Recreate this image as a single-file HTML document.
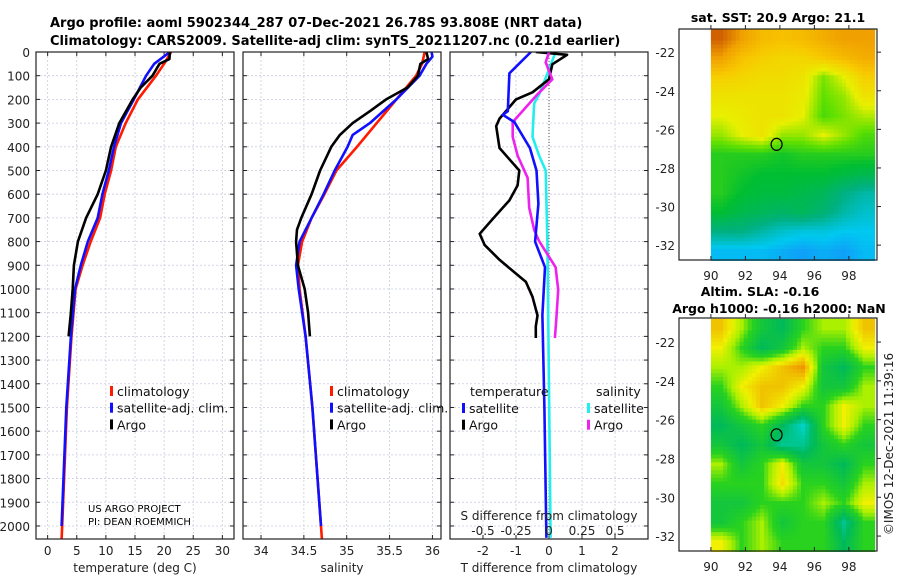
<!DOCTYPE html>
<html><head><meta charset="utf-8">
<style>
html,body{margin:0;padding:0;background:#fff;}
svg{display:block;font-family:"DejaVu Sans","Liberation Sans",sans-serif;}
</style></head>
<body>
<svg id="fig" width="900" height="580" viewBox="0 0 900 580" xmlns="http://www.w3.org/2000/svg">
<defs>
<clipPath id="cp1"><rect x="36" y="52" width="198" height="487"/></clipPath>
<clipPath id="cp2"><rect x="243" y="52" width="198" height="487"/></clipPath>
<clipPath id="cp3"><rect x="450" y="52" width="198" height="487"/></clipPath>
</defs>
<g id="root"></g>
</svg>
<script>
// ---------- data ----------
const depthTicks=[0,100,200,300,400,500,600,700,800,900,1000,1100,1200,1300,1400,1500,1600,1700,1800,1900,2000];
const tempTicks=[0,5,10,15,20,25,30];
const salTicks=[34,34.5,35,35.5,36];
const salTickLabels=["34","34.5","35","35.5","36"];
const dTTicks=[-2,-1,0,1,2];
const dSTicks=[-0.5,-0.25,0,0.25,0.5];
const dSTickLabels=["-0.5","-0.25","0","0.25","0.5"];

const climTDepth=[0,50,100,200,300,400,500,600,700,800,900,1000,1200,1500,2000,2055];
const climT=[21.2,20.0,18.6,15.5,13.4,11.7,10.9,9.8,9.0,7.4,6.0,4.8,4.1,3.3,2.5,2.4];
const satTDepth=[0,50,100,200,300,400,500,600,700,800,900,1000,1200,1500,2000];
const satT=[21.0,18.3,16.9,14.8,12.6,11.4,10.5,9.4,8.6,6.9,5.7,4.7,4.0,3.2,2.4];
const argoTDepth=[0,30,50,100,150,200,300,400,500,600,700,800,900,1000,1100,1200];
const argoT=[21.0,20.9,19.2,18.0,16.0,14.6,12.3,10.9,10.0,8.6,6.6,5.2,4.5,4.3,4.0,3.6];

const climSDepth=[0,50,100,200,300,400,500,600,700,800,900,1000,1200,1500,2000,2055];
const climS=[35.91,35.88,35.81,35.58,35.35,35.12,34.88,34.74,34.59,34.48,34.43,34.45,34.52,34.6,34.70,34.71];
const satSDepth=[0,20,50,100,200,300,350,400,500,600,700,800,900,1000,1200,1500,2000];
const satS=[35.99,36.0,35.93,35.85,35.58,35.27,35.07,35.01,34.86,34.73,34.59,34.45,34.41,34.44,34.52,34.6,34.70];
const argoSDepth=[0,30,50,100,150,200,250,300,350,400,500,600,700,750,800,900,1000,1100,1200];
const argoS=[35.93,35.95,35.86,35.83,35.71,35.46,35.27,35.07,34.92,34.82,34.69,34.59,34.47,34.42,34.41,34.43,34.51,34.55,34.57];

const dTsatDepth=[0,90,250,265,296,405,500,640,800,908,1110,1500,2050];
const dTsat=[-0.55,-1.2,-1.25,-1.4,-1.05,-0.58,-0.38,-0.32,-0.42,-0.12,-0.2,-0.14,-0.08];
const dTargoDepth=[0,12,52,115,170,200,249,281,313,405,500,563,626,704,767,814,877,970,1033,1112,1158,1207];
const dTargo=[-0.4,0.55,0.1,0,-0.5,-1.0,-1.3,-1.5,-1.6,-1.5,-0.9,-0.95,-1.2,-1.7,-2.1,-1.95,-1.5,-0.7,-0.5,-0.35,-0.4,-0.4];
const dSsatDepth=[0,91,179,217,296,358,437,500,800,2050];
const dSsat=[0.05,-0.012,-0.075,-0.112,-0.12,-0.125,-0.075,-0.025,-0.012,0.012];
const dSargoDepth=[0,44,115,179,249,296,358,437,531,657,751,798,908,1003,1128,1207];
const dSargo=[0,-0.025,0.025,-0.088,-0.2,-0.275,-0.275,-0.238,-0.162,-0.15,-0.112,-0.075,0.05,0.07,0.055,0.045];

const mapLonTicks=[90,92,94,96,98];
const mapLatTicks=[-22,-24,-26,-28,-30,-32];
const sstGrid=[
[23.5,23,22.6,22.5,22.6,22.8,23,23],
[23,22.5,22.3,22.2,22.2,22.4,22.6,22.8],
[22.3,22.2,22.1,22.1,22,21.4,21.8,22.3],
[22,22,22,22,21.9,21.3,21.5,22],
[21.8,21.9,22,22,21.8,21.2,21.4,21.6],
[21.5,21.8,22,21.5,21.5,21.8,21.5,21.2],
[21,21,21,20.9,21,21,21,21],
[21,20.9,20.8,20.8,20.8,20.8,20.7,20.6],
[21,20.8,20.7,20.7,20.6,20.5,20.2,20],
[20.8,20.6,20.5,20.4,20.5,20.3,20,19.8],
[20.2,20.2,20,19.8,19.7,19.7,19.6,19.6],
[19.5,19.5,19.5,19.4,19.3,19.4,19.3,19.5]];
const slaGrid=[
[0.15,0.05,-0.05,-0.1,0,0.05,0.05,0.15],
[0.1,0,-0.1,-0.05,0.05,0,0,0.1],
[0.05,0.05,0.1,0.15,0.2,-0.05,-0.1,0],
[0,0.1,0.15,0.15,0.1,-0.05,-0.05,0.05],
[-0.05,0.05,0.15,0.1,0,0,0.1,0.05],
[-0.1,-0.05,0,-0.1,-0.2,0,0.1,0],
[-0.05,-0.1,-0.05,-0.15,-0.15,-0.05,0,-0.05],
[0.05,-0.05,0,0.1,-0.05,-0.05,-0.1,0],
[0,0,0,0.12,0,0,-0.05,0.05],
[-0.05,-0.05,0,0,0,0.05,0,0.1],
[-0.05,0,0.05,-0.05,0,0,-0.15,0],
[0.1,0,0.05,0,0,0,-0.1,0]];
const argoLon=93.808, argoLat=-26.78;

// ---------- helpers ----------
const NS="http://www.w3.org/2000/svg";
const root=document.getElementById('root');
function mk(tag,attrs,parent){const e=document.createElementNS(NS,tag);for(const k in attrs)e.setAttribute(k,attrs[k]);(parent||root).appendChild(e);return e;}
function txt(x,y,s,attrs,parent){const e=mk('text',Object.assign({x:x,y:y,'font-size':12,fill:'#222'},attrs||{}),parent);e.textContent=s;return e;}
const yD=d=>52+d*(487/2055);
const P1={x0:36,w:198,min:-2,max:32};
const P2={x0:243,w:198,min:33.79,max:36.1};
const P3={x0:450,w:198,min:-3,max:3};
const xs=(p,v)=>p.x0+(v-p.min)/(p.max-p.min)*p.w;

function panelGrid(p,xt,name){
  const g=mk('g',{});
  
  
  depthTicks.forEach(d=>{mk('line',{x1:p.x0,x2:p.x0+p.w,y1:yD(d),y2:yD(d),stroke:'#c8cce0','stroke-width':0.8,'stroke-dasharray':'2,2'},g);
    mk('line',{x1:p.x0,x2:p.x0+4,y1:yD(d),y2:yD(d),stroke:'#222'},g);mk('line',{x1:p.x0+p.w-4,x2:p.x0+p.w,y1:yD(d),y2:yD(d),stroke:'#222'},g);});
  xt.forEach(v=>{const x=xs(p,v);mk('line',{x1:x,x2:x,y1:52,y2:539,stroke:'#c8cce0','stroke-width':0.8,'stroke-dasharray':'2,2'},g);
    mk('line',{x1:x,x2:x,y1:535,y2:539,stroke:'#222'},g);mk('line',{x1:x,x2:x,y1:52,y2:56,stroke:'#222'},g);});
}
function frame(p,name){const r=mk('rect',{x:p.x0,y:52,width:p.w,height:487,fill:'none',stroke:'#222','stroke-width':1.2});
  }
function line(p,vals,deps,color,name,clip,scale){
  const pts=vals.map((v,i)=>xs(p,v*(scale||1)).toFixed(1)+','+yD(deps[i]).toFixed(1)).join(' ');
  const e=mk('polyline',{points:pts,fill:'none',stroke:color,'stroke-width':2.6,'stroke-linejoin':'round','clip-path':'url(#'+clip+')'});
  
  
}

// ---------- titles ----------
const t1=txt(50,27,'Argo profile: aoml 5902344_287 07-Dec-2021 26.78S 93.808E (NRT data)',{'font-size':13,'font-weight':'bold',fill:'#000'});

const t2=txt(50,45,'Climatology: CARS2009. Satellite-adj clim: synTS_20211207.nc (0.21d earlier)',{'font-size':13,'font-weight':'bold',fill:'#000'});


// ---------- panel 1 ----------
panelGrid(P1,tempTicks,'temperature-panel');
depthTicks.forEach(d=>{const e=txt(30,yD(d)+5,String(d),{'text-anchor':'end'});
  });
tempTicks.forEach(v=>{const e=txt(xs(P1,v),555,String(v),{'text-anchor':'middle'});
  });
line(P1,climT,climTDepth,'#ff1a00','temp-climatology-line','cp1');
line(P1,satT,satTDepth,'#1010ff','temp-satellite-line','cp1');
line(P1,argoT,argoTDepth,'#000','temp-argo-line','cp1');
frame(P1,'temperature-panel');
const xt1=txt(135,572,'temperature (deg C)',{'text-anchor':'middle'});

const cr1=txt(88,512,'US ARGO PROJECT',{'font-size':10,fill:'#000'});

const cr2=txt(88,525,'PI: DEAN ROEMMICH',{'font-size':10,fill:'#000'});


function legend(x,entries,name){
  entries.forEach((e,i)=>{const y=392+i*16.7;
    const m=mk('rect',{x:x,y:y-6,width:3,height:10,fill:e[1]});
    
    const t=txt(x+7,y+4,e[0],{'font-size':12.5,fill:'#111'});
    });
}
legend(110,[['climatology','#ff1a00'],['satellite-adj. clim.','#1010ff'],['Argo','#000']],'temp-legend');

// ---------- panel 2 ----------
panelGrid(P2,[34,34.5,35,35.5,36],'salinity-panel');
salTicks.forEach((v,i)=>{const e=txt(xs(P2,v),555,salTickLabels[i],{'text-anchor':'middle'});
  });
line(P2,climS,climSDepth,'#ff1a00','sal-climatology-line','cp2');
line(P2,satS,satSDepth,'#1010ff','sal-satellite-line','cp2');
line(P2,argoS,argoSDepth,'#000','sal-argo-line','cp2');
frame(P2,'salinity-panel');
const xt2=txt(342,572,'salinity',{'text-anchor':'middle'});

legend(330,[['climatology','#ff1a00'],['satellite-adj. clim.','#1010ff'],['Argo','#000']],'sal-legend');

// ---------- panel 3 ----------
panelGrid(P3,dTTicks,'difference-panel');
const zl=mk('line',{x1:xs(P3,0),x2:xs(P3,0),y1:52,y2:539,stroke:'#555','stroke-width':1,'stroke-dasharray':'1,2'});

dTTicks.forEach(v=>{const e=txt(xs(P3,v),555,String(v),{'text-anchor':'middle'});
  });
line(P3,dSsat,dSsatDepth,'#22eeee','s-diff-satellite-line','cp3',4);
line(P3,dTargo,dTargoDepth,'#000','t-diff-argo-line','cp3');
line(P3,dSargo,dSargoDepth,'#ee22ee','s-diff-argo-line','cp3',4);
line(P3,dTsat,dTsatDepth,'#1010ff','t-diff-satellite-line','cp3');
frame(P3,'difference-panel');
dSTicks.forEach((v,i)=>{const e=txt(xs(P3,v*4),535,dSTickLabels[i],{'text-anchor':'middle'});
  });
const st=txt(549,520,'S difference from climatology',{'text-anchor':'middle'});

const tt=txt(549,572,'T difference from climatology',{'text-anchor':'middle'});

const lh1=txt(470,396,'temperature',{'font-size':12.5,fill:'#111'});

const lh2=txt(596,396,'salinity',{'font-size':12.5,fill:'#111'});

function legend2(x,entries,name){entries.forEach((e,i)=>{const y=409+i*16.7;
  const m=mk('rect',{x:x,y:y-6,width:3,height:10,fill:e[1]});
  
  const t=txt(x+7,y+4,e[0],{'font-size':12.5,fill:'#111'});
  });}
legend2(462,[['satellite','#1010ff'],['Argo','#000']],'t-diff-legend');
legend2(587,[['satellite','#22eeee'],['Argo','#ee22ee']],'s-diff-legend');

// ---------- maps ----------
function interp(stops,v){if(v<=stops[0][0])return stops[0][1];
  for(let i=1;i<stops.length;i++){if(v<=stops[i][0]){const a=stops[i-1],b=stops[i],t=(v-a[0])/(b[0]-a[0]);
    return [0,1,2].map(k=>Math.round(a[1][k]+(b[1][k]-a[1][k])*t));}}
  return stops[stops.length-1][1];}
const sstStops=[[19,[30,120,255]],[19.6,[0,200,240]],[20.2,[0,176,128]],[20.8,[0,190,50]],[21.3,[96,224,0]],[21.8,[232,240,0]],[22.4,[248,200,0]],[23,[240,160,0]],[23.5,[208,96,0]]];
const slaStops=[[-0.2,[0,210,200]],[-0.1,[0,185,90]],[0,[40,210,30]],[0.05,[170,240,0]],[0.1,[240,240,0]],[0.2,[240,150,0]]];

// bilinear sample of grid at fractional row/col (cell-centered)
function sample(grid,r,c){
  const nR=grid.length,nC=grid[0].length;
  r=Math.max(0,Math.min(nR-1,r));c=Math.max(0,Math.min(nC-1,c));
  const r0=Math.floor(r),c0=Math.floor(c),r1=Math.min(nR-1,r0+1),c1=Math.min(nC-1,c0+1),fr=r-r0,fc=c-c0;
  return grid[r0][c0]*(1-fr)*(1-fc)+grid[r0][c1]*(1-fr)*fc+grid[r1][c0]*fr*(1-fc)+grid[r1][c1]*fr*fc;
}
function drawMap(M,grid,stops,name,sub){
  const lx=v=>M.x0+(v-M.lon0)/(M.lon1-M.lon0)*M.w;
  const ly=v=>M.y0+(M.lat0-v)/(M.lat0-M.lat1)*M.h;
  const g=mk('g',{});
  
  
  const nR=grid.length,nC=grid[0].length,lonA=90,lonB=99.5,latA=-20.8,latB=-32.8;
  const R=nR*sub,C=nC*sub;
  for(let r=0;r<R;r++)for(let c=0;c<C;c++){
    const v=sample(grid,(r+0.5)/sub-0.5,(c+0.5)/sub-0.5);
    const x=lx(lonA+c*(lonB-lonA)/C),x2=lx(lonA+(c+1)*(lonB-lonA)/C);
    const y=ly(latA+r*(latB-latA)/R),y2=ly(latA+(r+1)*(latB-latA)/R);
    const cell=mk('rect',{x:x.toFixed(2),y:y.toFixed(2),width:(x2-x+0.4).toFixed(2),height:(y2-y+0.4).toFixed(2),fill:'rgb('+interp(stops,v).join(',')+')'},g);
    
    
  }
  const fr=mk('rect',{x:M.x0,y:M.y0,width:M.w,height:M.h,fill:'none',stroke:'#222','stroke-width':1.2});
  
  mapLonTicks.forEach(v=>{mk('line',{x1:lx(v),x2:lx(v),y1:M.y0+M.h,y2:M.y0+M.h-4,stroke:'#222'});
    mk('line',{x1:lx(v),x2:lx(v),y1:M.y0,y2:M.y0-4,stroke:'#222'});
    const e=txt(lx(v),M.y0+M.h+20,String(v),{'text-anchor':'middle'});
    });
  mapLatTicks.forEach(v=>{mk('line',{x1:M.x0+M.w,x2:M.x0+M.w+4,y1:ly(v),y2:ly(v),stroke:'#222'});
    const e=txt(675,ly(v)+5,String(v),{'text-anchor':'end'});
    });
  const c=mk('ellipse',{cx:lx(argoLon),cy:ly(argoLat),rx:5.5,ry:6,fill:'none',stroke:'#000','stroke-width':1.2});
  
}
drawMap({x0:679,w:198,y0:29,h:231,lon0:88.15,lon1:99.63,lat0:-20.8,lat1:-32.77},sstGrid,sstStops,'sst-map',5);
drawMap({x0:679,w:198,y0:318,h:233,lon0:88.15,lon1:99.63,lat0:-20.76,lat1:-32.77},slaGrid,slaStops,'sla-map',5);

const m1=txt(778,22,'sat. SST: 20.9 Argo: 21.1',{'text-anchor':'middle','font-weight':'bold','font-size':12.5,fill:'#000'});

const m2=txt(760,296,'Altim. SLA: -0.16',{'text-anchor':'middle','font-weight':'bold','font-size':12.5,fill:'#000'});

const m3=txt(779,313,'Argo h1000: -0.16 h2000: NaN',{'text-anchor':'middle','font-weight':'bold','font-size':12.5,fill:'#000'});

const cp=txt(0,0,'©IMOS 12-Dec-2021 11:39:16',{'text-anchor':'middle','font-size':12,transform:'translate(893,444) rotate(-90)'});

</script>
</body></html>
